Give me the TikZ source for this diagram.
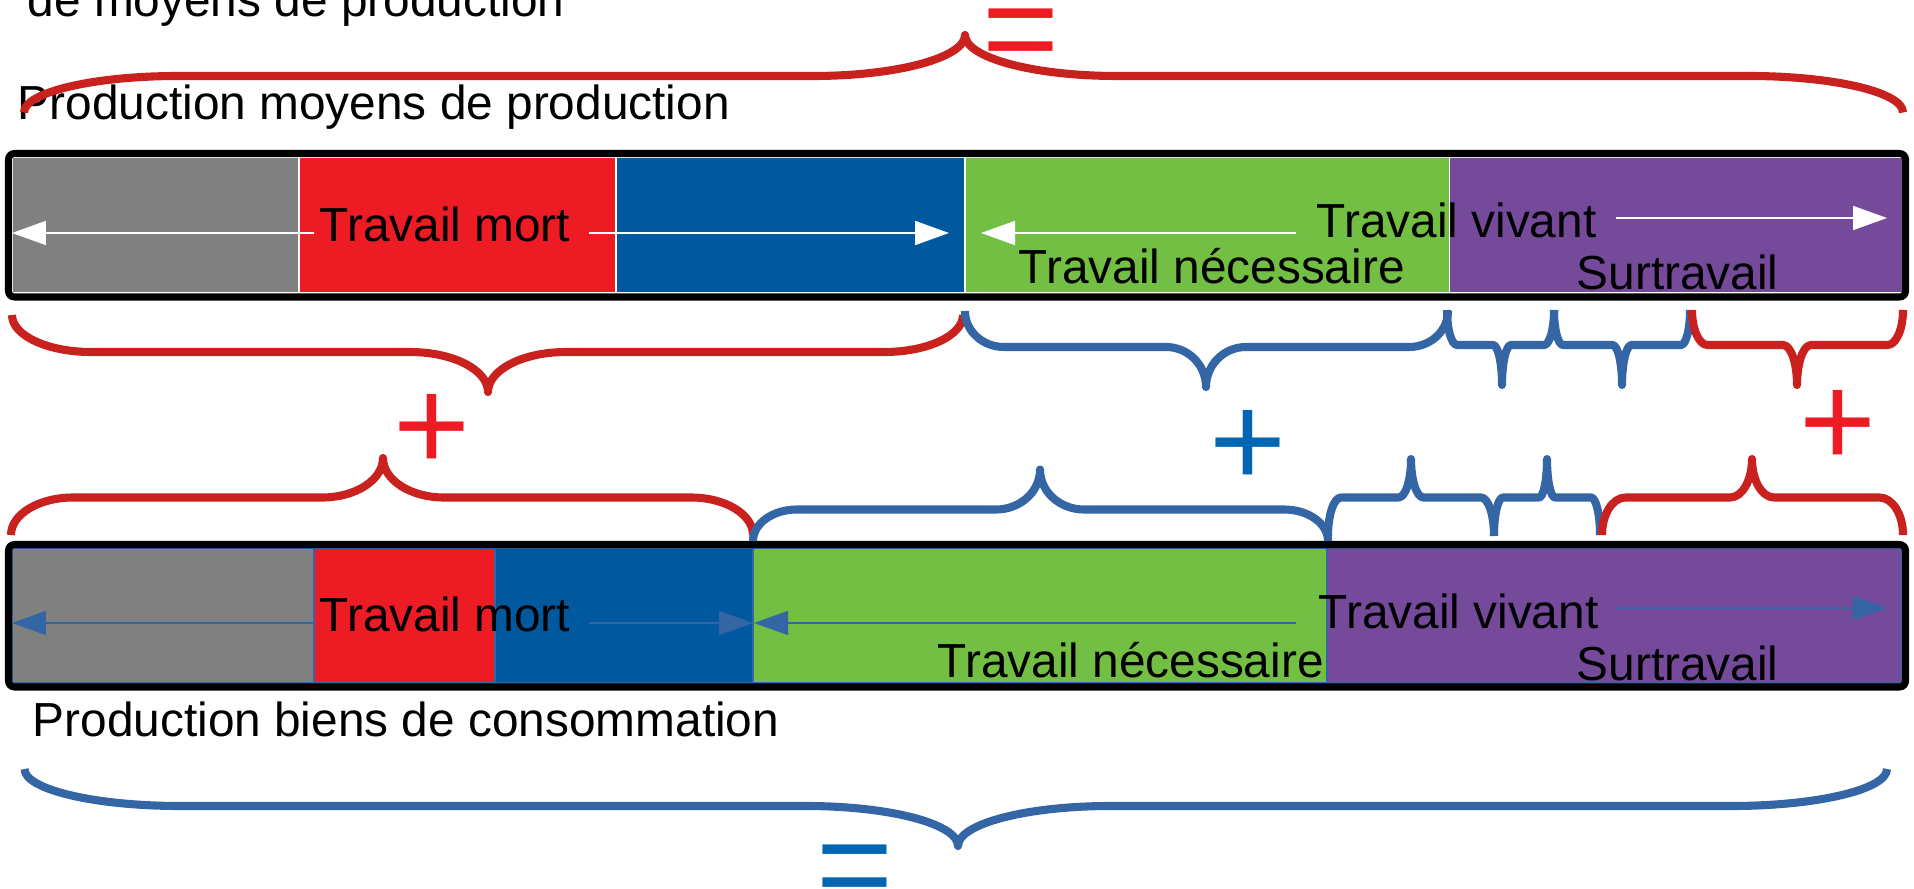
\documentclass[tikz,border=0pt]{standalone}
\usepackage{fontspec}
\setmainfont{Liberation Sans}
\usetikzlibrary{arrows.meta}
\definecolor{mpgray}{HTML}{808080}
\definecolor{mpred}{HTML}{ED1C24}
\definecolor{mpblue}{HTML}{00599F}
\definecolor{mpgreen}{HTML}{72BF44}
\definecolor{mppurple}{HTML}{754A9B}
\definecolor{brred}{HTML}{C9211E}
\definecolor{brblue}{HTML}{3465A4}
\definecolor{sgblue}{HTML}{0066B3}

\begin{document}
\begin{tikzpicture}[scale=0.1,
  redbrace/.style={brred, line width=2.3pt, line join=round},
  bluebrace/.style={brblue, line width=2.3pt, line join=round},
  frame/.style={black, line width=2pt, rounded corners=0.6mm},
  topseg/.style={white, line width=0.3pt},
  botseg/.style={brblue, line width=0.5pt},
  toparr/.style={white, line width=0.5pt, -{Triangle[length=3.4mm,width=2.4mm]}},
  botarr/.style={brblue, line width=0.5pt, -{Triangle[length=3.4mm,width=2.4mm]}},
  sign/.style={font=\fontsize{37.5pt}{40pt}\selectfont}]
\tikzstyle{every node}+=[inner sep=0pt, font=\fontsize{13.6pt}{16pt}\selectfont]
\useasboundingbox (0,0) rectangle (191.4,-88.8);
\clip (0,0) rectangle (191.4,-88.8);
% titles
\draw (2.7,-1.7) node [anchor=base west] (titletop) {de moyens de production};
\draw (1.7,-12.0) node [anchor=base west] (prodmp) {Production moyens de production};
\draw (3.2,-73.6) node [anchor=base west] (prodbc) {Production biens de consommation};
% top bar
\draw [topseg, fill=mpgray] (1.2,-15.7) rectangle (29.9,-29.3);
\draw [topseg, fill=mpred] (29.9,-15.7) rectangle (61.6,-29.3);
\draw [topseg, fill=mpblue] (61.6,-15.7) rectangle (96.5,-29.3);
\draw [topseg, fill=mpgreen] (96.5,-15.7) rectangle (144.9,-29.3);
\draw [topseg, fill=mppurple] (144.9,-15.7) rectangle (190.2,-29.3);
\draw [frame] (0.85,-15.35) rectangle (190.55,-29.7);
\draw (31.9,-24.2) node [anchor=base west] (mortA) {Travail mort};
\draw (131.6,-23.8) node [anchor=base west] (vivA) {Travail vivant};
\draw (101.8,-28.4) node [anchor=base west] (necA) {Travail nécessaire};
\draw (157.6,-29.0) node [anchor=base west] (surA) {Surtravail};
\coordinate (mA1) at (31.4,-23.3);
\coordinate (mA2) at (58.9,-23.3);
\coordinate (nA1) at (129.6,-23.3);
\coordinate (vA1) at (161.6,-21.8);
\draw [toparr] (mA1) -- (1.2,-23.3);
\draw [toparr] (mA2) -- (94.9,-23.3);
\draw [toparr] (nA1) -- (98.1,-23.3);
\draw [toparr] (vA1) -- (188.7,-21.8);
% bottom bar
\draw [botseg, fill=mpgray] (1.2,-54.8) rectangle (31.4,-68.3);
\draw [botseg, fill=mpred] (31.4,-54.8) rectangle (49.5,-68.3);
\draw [botseg, fill=mpblue] (49.5,-54.8) rectangle (75.3,-68.3);
\draw [botseg, fill=mpgreen] (75.3,-54.8) rectangle (132.7,-68.3);
\draw [botseg, fill=mppurple] (132.7,-54.8) rectangle (190.2,-68.3);
\draw [frame] (0.85,-54.45) rectangle (190.55,-68.7);
\draw (31.9,-63.1) node [anchor=base west] (mortB) {Travail mort};
\draw (131.8,-62.8) node [anchor=base west] (vivB) {Travail vivant};
\draw (93.7,-67.7) node [anchor=base west] (necB) {Travail nécessaire};
\draw (157.6,-68.0) node [anchor=base west] (surB) {Surtravail};
\coordinate (mB1) at (31.4,-62.3);
\coordinate (mB2) at (58.9,-62.3);
\coordinate (nB1) at (129.6,-62.3);
\coordinate (vB1) at (161.6,-60.8);
\draw [botarr] (mB1) -- (1.2,-62.3);
\draw [botarr] (mB2) -- (75.3,-62.3);
\draw [botarr] (nB1) -- (75.4,-62.3);
\draw [botarr] (vB1) -- (188.7,-60.8);
% braces
\draw [redbrace] (2.4,-11.25) arc (180:90:15.4 and 3.65) -- (81.3,-7.6) arc (270:360:15.2 and 4.1) arc (180:270:15.2 and 4.1) -- (174.9,-7.6) arc (90:0:15.4 and 3.65);
\draw [redbrace] (1.2,-31.5) arc (180:270:7.9 and 3.7) -- (41.0,-35.2) arc (90:0:7.8 and 4) arc (180:90:7.8 and 4) -- (88.4,-35.2) arc (270:360:7.9 and 3.7);
\draw [bluebrace] (96.5,-31.1) arc (180:270:3.9 and 3.6) -- (116.6,-34.7) arc (90:0:4 and 4) arc (180:90:4 and 4) -- (140.9,-34.7) arc (270:360:3.9 and 3.6);
\draw [bluebrace] (144.7,-31) arc (180:270:1 and 3.5) -- (149.3,-34.5) arc (90:0:0.9 and 4) arc (180:90:0.9 and 4) -- (154.4,-34.5) arc (270:360:1 and 3.5);
\draw [bluebrace] (155.4,-31) arc (180:270:0.9 and 3.5) -- (161.25,-34.5) arc (90:0:0.95 and 4) arc (180:90:0.95 and 4) -- (168.1,-34.5) arc (270:360:0.9 and 3.5);
\draw [redbrace] (169.2,-31) arc (180:270:1.55 and 3.5) -- (178.3,-34.5) arc (90:0:1.4 and 4) arc (180:90:1.4 and 4) -- (188.75,-34.5) arc (270:360:1.55 and 3.5);
\draw [redbrace] (1.1,-53.5) arc (180:90:6.2 and 3.75) -- (32.2,-49.75) arc (270:360:6.1 and 3.95) arc (180:270:6.1 and 3.95) -- (69.1,-49.75) arc (90:0:6.2 and 3.75);
\draw [bluebrace] (75.3,-54.1) arc (180:90:4.4 and 3.15) -- (99.6,-50.95) arc (270:360:4.4 and 4) arc (180:270:4.4 and 4) -- (128.4,-50.95) arc (90:0:4.4 and 3.15);
\draw [bluebrace] (132.8,-53.6) arc (180:90:1.3 and 3.85) -- (139.85,-49.75) arc (270:360:1.25 and 3.85) arc (180:270:1.25 and 3.85) -- (148.1,-49.75) arc (90:0:1.3 and 3.85);
\draw [bluebrace] (149.4,-53.5) arc (180:90:0.9 and 3.75) -- (153.9,-49.75) arc (270:360:0.8 and 3.85) arc (180:270:0.8 and 3.85) -- (159.1,-49.75) arc (90:0:0.9 and 3.75);
\draw [redbrace] (160.2,-53.5) arc (180:90:2.35 and 3.75) -- (173.0,-49.75) arc (270:360:2.2 and 3.85) arc (180:270:2.2 and 3.85) -- (187.95,-49.75) arc (90:0:2.35 and 3.75);
\draw [bluebrace] (2.45,-76.9) arc (180:270:15.6 and 3.7) -- (80.6,-80.6) arc (90:0:15.2 and 4) arc (180:90:15.2 and 4) -- (173.1,-80.6) arc (270:360:15.6 and 3.7);
% signs
\draw (102.1,-4.16) node [sign, mpred] (eqtop) {=};
\draw (85.45,-87.7) node [sign, sgblue] (eqbot) {=};
\draw (43.15,-43.27) node [sign, mpred] (plusA) {+};
\draw (124.75,-44.8) node [sign, sgblue] (plusB) {+};
\draw (183.75,-42.85) node [sign, mpred] (plusC) {+};
\end{tikzpicture}
\end{document}
